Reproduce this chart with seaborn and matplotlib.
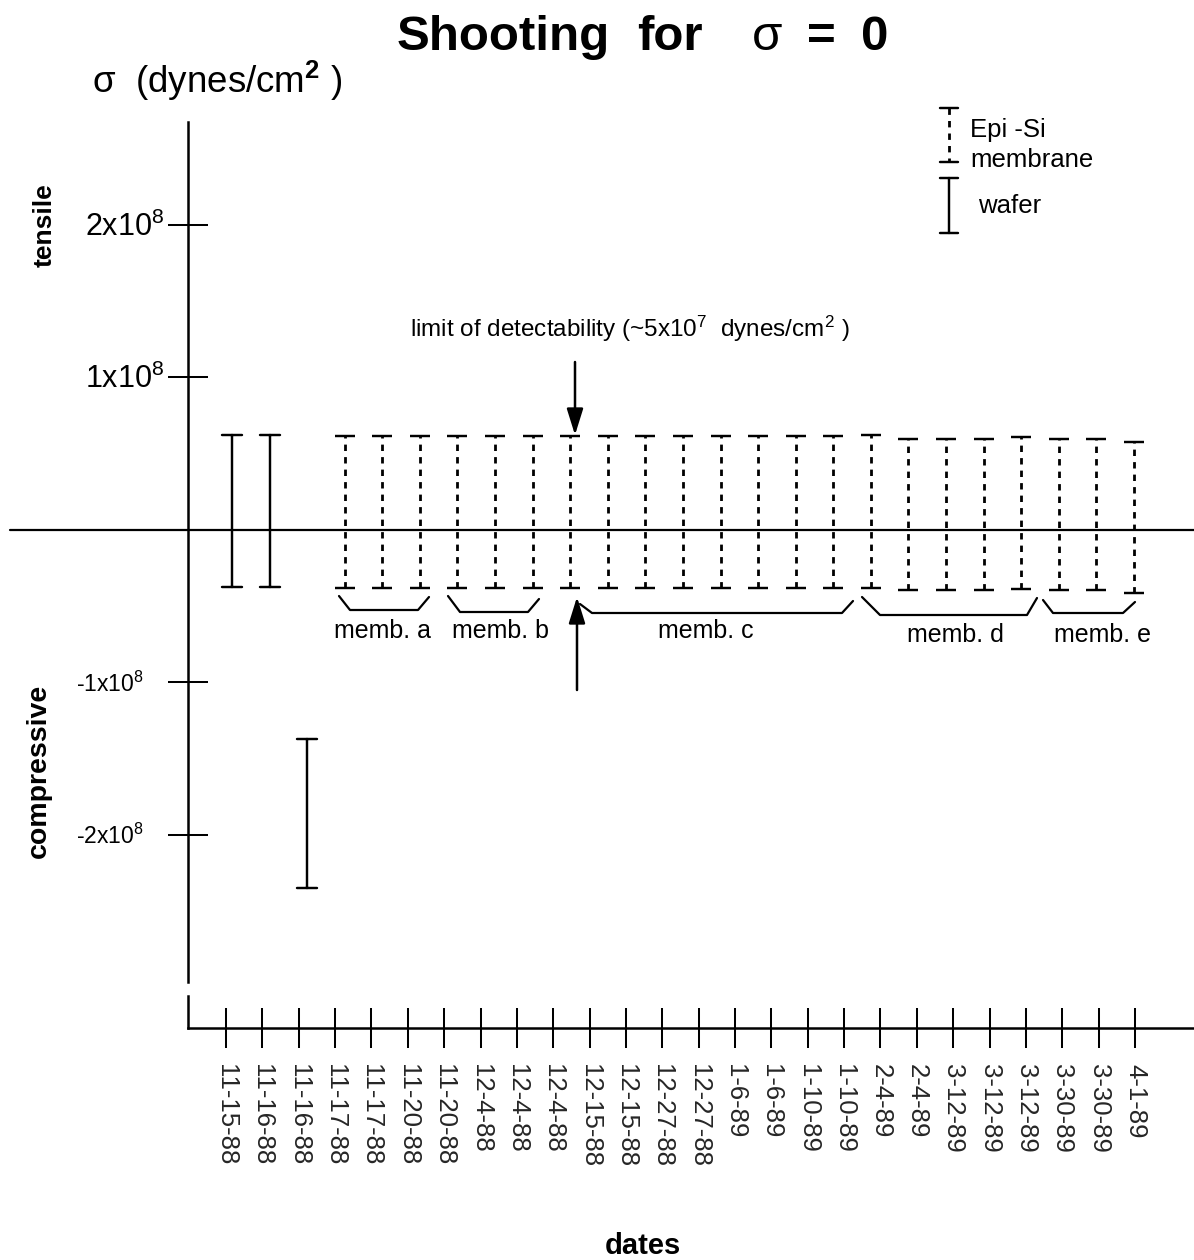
import numpy as np
import pandas as pd
import matplotlib
matplotlib.use("Agg")
import matplotlib.pyplot as plt
import matplotlib.transforms as mtransforms
from matplotlib.lines import Line2D
import seaborn as sns

# ---------------- data ----------------
dates = ["11-15-88", "11-16-88", "11-16-88", "11-17-88", "11-17-88", "11-20-88",
         "11-20-88", "12-4-88", "12-4-88", "12-4-88", "12-15-88", "12-15-88",
         "12-27-88", "12-27-88", "1-6-89", "1-6-89", "1-10-89", "1-10-89",
         "2-4-89", "2-4-89", "3-12-89", "3-12-89", "3-12-89", "3-30-89",
         "3-30-89", "4-1-89"]

samples = ["W1", "W2", "W3",
           "a1", "a2", "a3",
           "b1", "b2", "b3",
           "c1", "c2", "c3", "c4", "c5", "c6", "c7", "c8",
           "d1", "d2", "d3", "d4", "d5",
           "e1", "e2", "e3"]
kinds = ["wafer", "wafer", "wafer",
         "membrane", "membrane", "membrane",
         "membrane", "membrane", "membrane",
         "membrane", "membrane", "membrane", "membrane", "membrane", "membrane", "membrane", "membrane",
         "membrane", "membrane", "membrane", "membrane", "membrane",
         "membrane", "membrane", "membrane"]
sigma_high = [6.2e7, 6.2e7, -1.37e8,
              6.15e7, 6.15e7, 6.15e7,
              6.15e7, 6.15e7, 6.15e7,
              6.15e7, 6.15e7, 6.15e7, 6.15e7, 6.15e7, 6.15e7, 6.15e7, 6.15e7,
              6.2e7, 5.95e7, 5.95e7, 5.95e7, 6.1e7,
              5.95e7, 5.95e7, 5.8e7]
sigma_low = [-3.75e7, -3.75e7, -2.35e8,
             -3.8e7, -3.8e7, -3.8e7,
             -3.8e7, -3.8e7, -3.8e7,
             -3.8e7, -3.8e7, -3.8e7, -3.8e7, -3.8e7, -3.8e7, -3.8e7, -3.8e7,
             -3.8e7, -3.95e7, -3.95e7, -3.95e7, -3.85e7,
             -3.95e7, -3.95e7, -4.15e7]

ytick_values = [2e8, 1e8, -1e8, -2e8]
ytick_labels = ["2x10$^{8}$", "1x10$^{8}$", "-1x10$^{8}$", "-2x10$^{8}$"]
group_labels = ["memb. a", "memb. b", "memb. c", "memb. d", "memb. e"]

# ---------------- style ----------------
sns.set_theme(style="white")
plt.rcParams["font.family"] = ["Liberation Sans", "DejaVu Sans"]
plt.rcParams["mathtext.fontset"] = "custom"
plt.rcParams["mathtext.rm"] = "Liberation Sans"
plt.rcParams["mathtext.it"] = "Liberation Sans:italic"
plt.rcParams["mathtext.bf"] = "Liberation Sans:bold"
plt.rcParams["text.color"] = "black"

W, H = 1194, 1260
fig = plt.figure(figsize=(W / 100, H / 100), dpi=100)
fig.patch.set_facecolor("white")


def fx(px):
    return px / W


def fy(py):
    return 1 - py / H


LW = 1.75
DASH = (0, (2.3, 2.2))
INK = "black"

# ---------------- long table ----------------
rows = []
for s, k, hi, lo in zip(samples, kinds, sigma_high, sigma_low):
    rows.append({"sample": s, "kind": k, "end": "high", "sigma": hi})
    rows.append({"sample": s, "kind": k, "end": "low", "sigma": lo})
df = pd.DataFrame(rows)
wafer_df = df[df["kind"] == "wafer"]
mem_df = df[df["kind"] == "membrane"]

# ---------------- main axes ----------------
ax = fig.add_axes([fx(188), fy(982), 1 - fx(188), (982 - 122) / H])
ax.set_facecolor("none")


def span(v):
    return (np.min(v), np.max(v))


# wafer: solid bars with caps
sns.pointplot(data=wafer_df, x="sample", y="sigma", order=samples,
              errorbar=span, markers="", linestyles="none", color=INK,
              capsize=0.53, err_kws={"linewidth": LW}, ax=ax)
# membrane: dashed bars
sns.pointplot(data=mem_df, x="sample", y="sigma", order=samples,
              errorbar=span, markers="", linestyles="none", color=INK,
              capsize=0, err_kws={"linewidth": 2.0, "linestyle": DASH},
              ax=ax)
# membrane: solid caps
sns.pointplot(data=mem_df, x="sample", y="sigma", hue="end", order=samples,
              errorbar=None, markers="_", linestyles="none",
              palette=[INK, INK], dodge=False, legend=False,
              markersize=14, markeredgewidth=LW, ax=ax)

ax.set_xlim(-44 / 37.58, 962 / 37.58)
ax.set_ylim(-2.964e8, 2.6754e8)
ax.set_xlabel("")
ax.set_ylabel("")
ax.set_xticks([])
ax.set_yticks(ytick_values)
ax.tick_params(axis="y", direction="inout", length=28.8, width=1.45,
               labelleft=False, color=INK, left=True)
for side in ["top", "right", "bottom"]:
    ax.spines[side].set_visible(False)
ax.spines["left"].set_linewidth(1.8)
ax.spines["left"].set_color(INK)
ax.grid(False)

# zero line extending left of the axis
ax.axhline(0, xmin=(10 - 188) / (W - 188), xmax=1, color=INK, lw=1.6,
           clip_on=False, zorder=0)

# y tick labels (custom sizes as in the original)
blend = mtransforms.blended_transform_factory(fig.transFigure, ax.transData)
for v, lab in zip(ytick_values, ytick_labels):
    if v > 0:
        fs, xr, dy = 22, 164, 11
    else:
        fs, xr, dy = 16.5, 144, 9
    off = mtransforms.ScaledTranslation(0, -dy / 100, fig.dpi_scale_trans)
    ax.text(fx(xr), v, lab, transform=blend + off, ha="right", va="baseline",
            fontsize=fs, color=INK)

# ---------------- date axis ----------------
ax2 = fig.add_axes([fx(188), fy(1028), 1 - fx(188), 32 / H])
ax2.set_facecolor("none")
ax2.set_xlim(-38 / 36.36, 968 / 36.36)
ax2.set_ylim(0, 1)
ax2.set_xticks(range(len(dates)))
ax2.set_xticklabels(dates, rotation=270, fontsize=18.5, ha="center", va="top")
ax2.set_yticks([])
ax2.tick_params(axis="x", direction="inout", length=29.5, width=1.45,
                pad=11.5, color=INK, bottom=True)
for side in ["top", "right"]:
    ax2.spines[side].set_visible(False)
for side in ["left", "bottom"]:
    ax2.spines[side].set_linewidth(1.8)
    ax2.spines[side].set_color(INK)

# ---------------- texts ----------------
title_parts = [("Shooting", 397, "bold"), ("for", 637, "bold"),
               ("σ", 752, "normal"), ("=", 807, "bold"), ("0", 861, "bold")]
for txt, x0, wt in title_parts:
    fig.text(fx(x0), fy(50), txt, ha="left", va="baseline", fontsize=35.5,
             fontweight=wt)
fig.text(fx(92), fy(93), "σ  (dynes/cm$^{\\mathbf{2}}$ )", ha="left",
         va="baseline", fontsize=26.5)
fig.text(fx(45), fy(225), "tensile", rotation=90, ha="center", va="center",
         fontsize=19, fontweight="bold")
fig.text(fx(39), fy(771), "compressive", rotation=90, ha="center", va="center",
         fontsize=20.5, fontweight="bold")
fig.text(fx(643), fy(1254), "dates", ha="center", va="baseline",
         fontsize=21, fontweight="bold")
fig.text(fx(630), fy(337), "limit of detectability (~5x10$^{7}$  dynes/cm$^{2}$ )",
         ha="center", va="baseline", fontsize=17.5)

# group brackets
brackets = [
    [(339, 596), (350, 610), (418, 610), (429, 597)],
    [(448, 596), (460, 612), (528, 612), (539, 599)],
    [(580, 604), (592, 613), (842, 613), (853, 601)],
    [(862, 597), (880, 615), (1027, 615), (1037, 598)],
    [(1043, 600), (1053, 613), (1123, 613), (1135, 602)],
]
label_pos = [(383, 638), (500, 638), (706, 638), (955, 642), (1102, 642)]
for pts, txt, (lx, ly) in zip(brackets, group_labels, label_pos):
    xs = [fx(p[0]) for p in pts]
    ys = [fy(p[1]) for p in pts]
    fig.add_artist(Line2D(xs, ys, transform=fig.transFigure, color=INK, lw=1.6))
    fig.text(fx(lx), fy(ly), txt, ha="center", va="baseline", fontsize=18)

# arrows for limit of detectability
arrow_kw = dict(arrowstyle="-|>,head_length=0.8,head_width=0.25", lw=1.8,
                color=INK, shrinkA=0, shrinkB=0, mutation_scale=20)
ax.annotate("", xy=(fx(575), fy(435)), xytext=(fx(575), fy(362)),
            xycoords="figure fraction", textcoords="figure fraction",
            arrowprops=arrow_kw)
ax.annotate("", xy=(fx(577), fy(597)), xytext=(fx(577), fy(690)),
            xycoords="figure fraction", textcoords="figure fraction",
            arrowprops=arrow_kw)

# legend (top right)
def leg_bar(x, y0, y1, dashed):
    ls = DASH if dashed else "-"
    lw = 2.0 if dashed else LW
    fig.add_artist(Line2D([fx(x), fx(x)], [fy(y0), fy(y1)],
                          transform=fig.transFigure, color=INK, lw=lw, ls=ls))
    for yy in (y0, y1):
        fig.add_artist(Line2D([fx(x - 9), fx(x + 9)], [fy(yy), fy(yy)],
                              transform=fig.transFigure, color=INK, lw=LW))


leg_bar(949, 108, 162, True)
leg_bar(949, 178, 233, False)
fig.text(fx(970), fy(137), "Epi -Si", ha="left", va="baseline", fontsize=18.5)
fig.text(fx(970), fy(167), "membrane", ha="left", va="baseline", fontsize=18.5)
fig.text(fx(978), fy(213), "wafer", ha="left", va="baseline", fontsize=18.5)

fig.savefig("out.png", dpi=100, facecolor="white")
